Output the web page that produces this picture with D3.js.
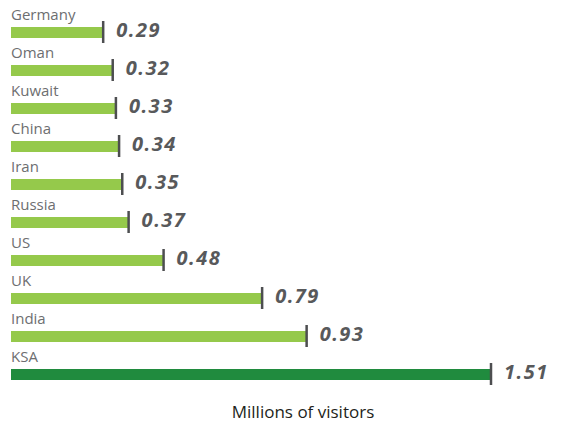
<!DOCTYPE html>
<html>
<head>
<meta charset="utf-8">
<script src="https://cdn.jsdelivr.net/npm/d3@7"></script>
<style>
  body { margin: 0; background: #fff; }
  svg { display: block; }
</style>
</head>
<body>
<div id="chart"></div>
<script>
var countries = ["Germany", "Oman", "Kuwait", "China", "Iran", "Russia", "US", "UK", "India", "KSA"];
var visitors = [0.29, 0.32, 0.33, 0.34, 0.35, 0.37, 0.48, 0.79, 0.93, 1.51];
var highlight = "KSA";

var data = countries.map(function(c, i){ return {name: c, value: visitors[i]}; });

var width = 561, height = 426;

var svg = d3.select("#chart").append("svg")
    .attr("width", width)
    .attr("height", height);

var x = d3.scaleLinear()
    .domain([0, 1.51])
    .range([11, 491]);

var y = d3.scaleBand()
    .domain(countries)
    .range([8, 388]);

var row = svg.selectAll(".row")
    .data(data)
    .enter().append("g")
    .attr("class", "row")
    .attr("transform", function(d){ return "translate(0," + y(d.name) + ")"; });

// country name above the bar
row.append("text")
    .attr("x", 11)
    .attr("y", 12)
    .style("font-family", "'Open Sans', sans-serif")
    .style("font-size", "15px")
    .style("fill", "#6d6e70")
    .text(function(d){ return d.name; });

row.append("rect")
    .attr("x", x(0))
    .attr("y", 19)
    .attr("height", 11)
    .attr("width", function(d){ return x(d.value) - x(0); })
    .attr("fill", function(d){ return d.name === highlight ? "#208b3e" : "#95c94b"; });

// end marker
row.append("line")
    .attr("x1", function(d){ return x(d.value); })
    .attr("x2", function(d){ return x(d.value); })
    .attr("y1", 13)
    .attr("y2", 35)
    .attr("stroke", "#4d4e50")
    .attr("stroke-width", 2.5);

row.append("text")
    .attr("x", function(d){ return x(d.value) + 13; })
    .attr("y", 29)
    .style("font-family", "'Open Sans', sans-serif")
    .style("font-size", "20px")
    .style("font-weight", "bold")
    .style("font-style", "italic")
    .style("letter-spacing", "1.5px")
    .style("fill", "#58595b")
    .text(function(d){ return d3.format(".2f")(d.value); });

svg.append("text")
    .attr("x", 303)
    .attr("y", 418)
    .attr("text-anchor", "middle")
    .style("font-family", "'Open Sans', sans-serif")
    .style("font-size", "17px")
    .style("fill", "#231f20")
    .text("Millions of visitors");
</script>
</body>
</html>
